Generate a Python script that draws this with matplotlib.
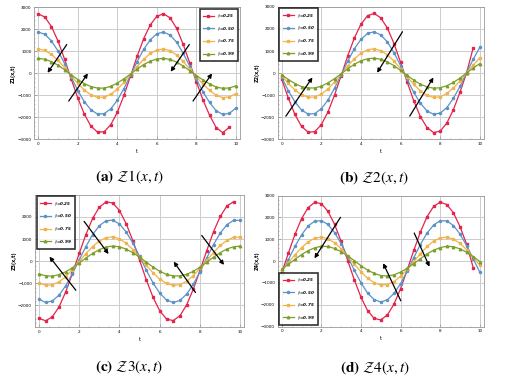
import numpy as np
import matplotlib
matplotlib.use("Agg")
import matplotlib.pyplot as plt

plt.rcParams['mathtext.fontset'] = 'stix'

t_vals = np.linspace(0, 10, 31)
labels = [r"$\beta$=0.25", r"$\beta$=0.50", r"$\beta$=0.75", r"$\beta$=0.99"]

# Panel (a)
a_red = [2700, 2550, 2120, 1460, 630, -260, -1120, -1860, -2400, -2670, -2650, -2330, -1770, -1000, -120,
         770, 1570, 2200, 2590, 2700, 2520, 2040, 1310, 460, -390, -1210, -1900, -2460, -2690, -2450]
a_blue = [1870, 1770, 1470, 1010, 440, -180, -780, -1290, -1660, -1850, -1830, -1610, -1220, -690, -90,
          530, 1090, 1520, 1800, 1870, 1740, 1410, 910, 320, -270, -840, -1320, -1700, -1860, -1820, -1570]
a_orange = [1100, 1040, 860, 590, 260, -110, -460, -760, -980, -1090, -1080, -950, -720, -410, -50,
            310, 640, 900, 1060, 1100, 1030, 830, 540, 190, -160, -490, -770, -1000, -1100, -1070, -920]
a_green = [680, 640, 530, 370, 160, -70, -280, -470, -600, -670, -670, -590, -440, -250, -30,
           190, 400, 550, 650, 680, 630, 510, 330, 120, -100, -300, -480, -620, -680, -660, -570]

# Panel (b)
b_red = [-270, -1130, -1870, -2410, -2670, -2650, -2330, -1760, -990, -110, 780, 1590, 2210, 2600, 2700,
         2500, 2040, 1340, 490, -400, -1260, -1970, -2460, -2690, -2620, -2260, -1650, -860, 20, 1150]
b_blue = [-190, -790, -1300, -1670, -1850, -1830, -1610, -1220, -680, -80, 540, 1100, 1530, 1800, 1870,
          1730, 1410, 930, 340, -280, -870, -1360, -1710, -1860, -1810, -1560, -1140, -600, 20, 630, 1170]
b_orange = [-110, -460, -760, -980, -1090, -1080, -950, -720, -400, -50, 320, 650, 900, 1060, 1100,
            1020, 830, 550, 200, -160, -510, -800, -1000, -1100, -1070, -920, -670, -350, 10, 370, 690]
b_green = [-70, -290, -470, -610, -670, -670, -590, -440, -250, -30, 200, 400, 560, 650, 680,
           630, 510, 340, 120, -100, -320, -500, -620, -680, -660, -570, -420, -220, 10, 230, 430]

# Panel (c)
c_red = [-2580, -2700, -2520, -2070, -1390, -550, 350, 1200, 1930, 2440, 2680, 2630, 2290, 1690, 920,
         30, -850, -1640, -2250, -2620, -2690, -2470, -1980, -1260, -410, 480, 1330, 2020, 2500, 2690]
c_blue = [-1720, -1870, -1800, -1540, -1110, -560, 50, 660, 1200, 1600, 1830, 1850, 1680, 1320, 810,
          210, -410, -990, -1450, -1760, -1870, -1780, -1490, -1040, -470, 150, 750, 1270, 1650, 1850, 1840]
c_orange = [-990, -1090, -1070, -940, -700, -380, -20, 340, 660, 910, 1060, 1100, 1010, 810, 520,
            180, -190, -530, -820, -1010, -1100, -1060, -910, -650, -330, 30, 390, 710, 940, 1080, 1090]
c_green = [-580, -660, -680, -610, -480, -300, -80, 140, 350, 520, 640, 680, 650, 540, 380,
           180, -50, -270, -460, -600, -670, -670, -600, -460, -270, -50, 180, 380, 550, 650, 680]

# Panel (d)
d_red = [-540, 360, 1220, 1940, 2450, 2690, 2630, 2280, 1690, 900, 20, -860, -1650, -2260, -2620,
         -2690, -2460, -1970, -1260, -400, 490, 1330, 2030, 2500, 2700, 2590, 2210, 1580, 770, -300]
d_blue = [-550, 60, 670, 1200, 1610, 1830, 1850, 1680, 1310, 800, 200, -420, -990, -1460, -1760,
          -1870, -1770, -1480, -1030, -460, 160, 760, 1280, 1650, 1850, 1840, 1630, 1240, 710, 110, -510]
d_orange = [-430, -70, 290, 620, 880, 1050, 1100, 1030, 840, 570, 230, -140, -490, -780, -990,
            -1090, -1070, -940, -690, -380, -20, 340, 670, 920, 1060, 1100, 1010, 810, 520, 170, -190]
d_green = [-360, -150, 80, 300, 480, 610, 680, 670, 580, 430, 240, 20, -210, -410, -560,
           -660, -680, -630, -500, -330, -110, 110, 330, 500, 620, 680, 660, 560, 410, 210, -20]

# arrows: (tail_x, tail_y, head_x, head_y)
a_arrows = [(1.52, 1410, 0.39, -80), (1.46, -1360, 2.59, 100), (7.72, 1410, 6.62, -30), (7.75, -1360, 8.87, 100)]
b_arrows = [(0.13, -2050, 1.63, -90), (6.17, 1980, 4.74, -90), (6.39, -2050, 7.73, -90)]
c_arrows = [(1.92, -1415, 0.44, 300), (2.16, 1900, 3.54, 220), (7.85, -1520, 6.61, 80), (8.0, 1260, 9.27, -270)]
d_arrows = [(3.04, 2110, 1.58, 20), (6.07, -1930, 5.06, 20), (6.63, 1400, 7.52, -370)]

colors = ['#e3244c', '#5a92c8', '#f2b24c', '#7c9e2c']
markers = ['s', 'o', 's', '^']
msizes = [1.6, 1.5, 1.6, 1.8]

fig = plt.figure(figsize=(5.05, 3.79), dpi=100)

panels = [
    dict(rect=[0.068, 0.632, 0.407, 0.349], series=[a_red, a_blue, a_orange, a_green], arrows=a_arrows,
         ylim=(-3000, 3000), yticks=[-3000, -2000, -1000, 0, 1000, 2000, 3000], legend='upper right',
         ylabel='Z1(x,t)', cap=r"$\mathbf{(a)}\ \mathcal{Z}1(x,t)$", capxy=(130, 177)),
    dict(rect=[0.550, 0.632, 0.408, 0.350], series=[b_red, b_blue, b_orange, b_green], arrows=b_arrows,
         ylim=(-3000, 3000), yticks=[-3000, -2000, -1000, 0, 1000, 2000, 3000], legend='upper left',
         ylabel='Z2(x,t)', cap=r"$\mathbf{(b)}\ \mathcal{Z}2(x,t)$", capxy=(374, 178)),
    dict(rect=[0.069, 0.136, 0.415, 0.350], series=[c_red, c_blue, c_orange, c_green], arrows=c_arrows,
         ylim=(-3000, 2920), yticks=[-2000, -1000, 0, 1000, 2000], legend='upper left',
         ylabel='Z3(x,t)', cap=r"$\mathbf{(c)}\ \mathcal{Z}3(x,t)$", capxy=(129, 367)),
    dict(rect=[0.550, 0.138, 0.408, 0.346], series=[d_red, d_blue, d_orange, d_green], arrows=d_arrows,
         ylim=(-3000, 3000), yticks=[-3000, -2000, -1000, 0, 1000, 2000, 3000], legend='lower left',
         ylabel='Z4(x,t)', cap=r"$\mathbf{(d)}\ \mathcal{Z}4(x,t)$", capxy=(375, 368)),
]

W, H = 505, 379
for p in panels:
    ax = fig.add_axes(p['rect'])
    for vals, col, mk, ms, lab in zip(p['series'], colors, markers, msizes, labels):
        ax.plot(t_vals[:len(vals)], vals, color=col, marker=mk, ms=ms, lw=0.9, label=lab)
    for (tx, ty, hx, hy) in p['arrows']:
        ax.annotate('', xy=(hx, hy), xytext=(tx, ty),
                    arrowprops=dict(arrowstyle='-|>', color='black', lw=0.9, mutation_scale=6))
    ax.set_xlim(-0.2, 10.2)
    ax.set_ylim(*p['ylim'])
    ax.set_xticks([0, 2, 4, 6, 8, 10])
    ax.set_yticks(p['yticks'])
    ax.set_xticks(np.arange(-0.0, 10.01, 0.5), minor=True)
    ax.set_yticks(np.arange(-3000, 3001, 200), minor=True)
    ax.grid(True, which='major', color='#cccccc', lw=0.7)
    ax.tick_params(which='both', direction='in', labelsize=3, length=2, width=0.4, color='#888888', pad=2)
    ax.tick_params(which='minor', length=1)
    for s in ax.spines.values():
        s.set_color('#999999')
        s.set_linewidth(0.6)
    ax.set_xlabel('t', fontsize=3.5, labelpad=2)
    ax.set_ylabel(p['ylabel'], fontsize=3.5, labelpad=1, fontweight='bold')
    leg = ax.legend(loc=p['legend'], frameon=True, fancybox=False, borderpad=0.8,
                    labelspacing=1.1, handlelength=2.6, handleheight=0.5, borderaxespad=0.4,
                    prop=dict(size=3, style='italic', weight='bold'))
    leg.get_frame().set_edgecolor('black')
    leg.get_frame().set_linewidth(1.2)
    cx, cy = p['capxy']
    fig.text(cx / W, 1 - cy / H, p['cap'], ha='center', va='center', fontsize=11)

fig.savefig('out.png', dpi=100)
